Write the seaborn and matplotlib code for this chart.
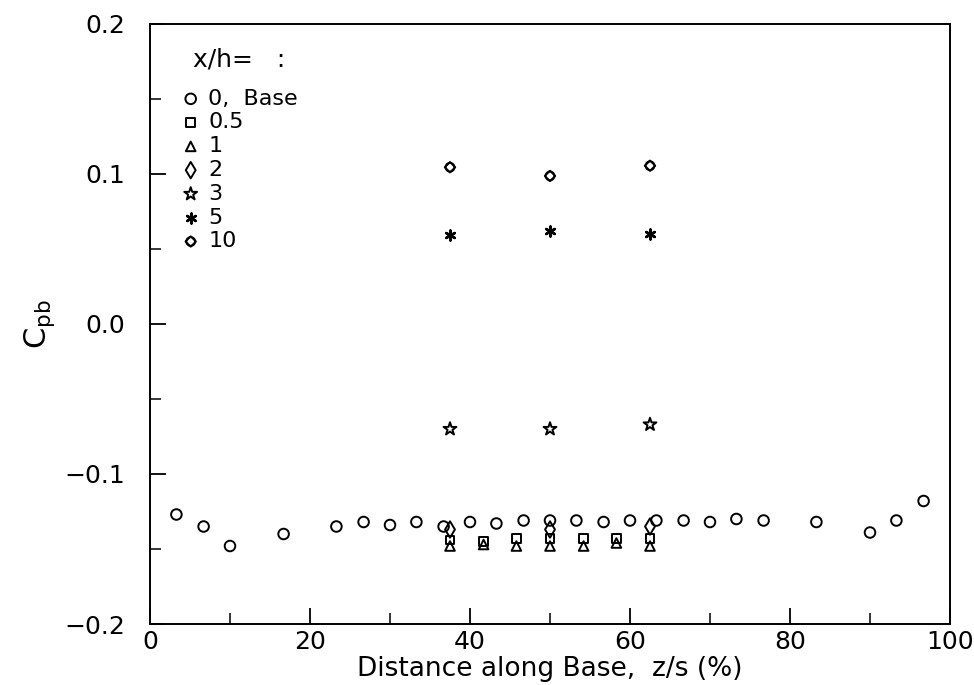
import matplotlib
matplotlib.use("Agg")
import matplotlib.pyplot as plt
import seaborn as sns
import numpy as np
import pandas as pd

# ---- data ----
base_z = [3.3, 6.7, 10.0, 16.7, 23.3, 26.7, 30.0, 33.3, 36.7, 40.0, 43.3, 46.7,
          50.0, 53.3, 56.7, 60.0, 63.3, 66.7, 70.0, 73.3, 76.7, 83.3, 90.0, 93.3, 96.7]
base_cp = [-0.127, -0.135, -0.148, -0.140, -0.135, -0.132, -0.134, -0.132, -0.135,
           -0.132, -0.133, -0.131, -0.131, -0.131, -0.132, -0.131, -0.131, -0.131,
           -0.132, -0.130, -0.131, -0.132, -0.139, -0.131, -0.118]

wake_z7 = [37.5, 41.7, 45.8, 50.0, 54.2, 58.3, 62.5]
cp_05 = [-0.144, -0.145, -0.143, -0.143, -0.143, -0.143, -0.143]
cp_1 = [-0.148, -0.147, -0.148, -0.148, -0.148, -0.146, -0.148]

wake_z3 = [37.5, 50.0, 62.5]
cp_2 = [-0.137, -0.137, -0.135]
cp_3 = [-0.070, -0.070, -0.067]
cp_5 = [0.059, 0.062, 0.060]
cp_10 = [0.1045, 0.0987, 0.1055]

labels = ["0,  Base", "0.5", "1", "2", "3", "5", "10"]
xticks = [0, 20, 40, 60, 80, 100]
yticks = [-0.2, -0.1, 0.0, 0.1, 0.2]
yticklabels = ["\u22120.2", "\u22120.1", "0.0", "0.1", "0.2"]

# ---- figure ----
sns.set_style("white")
plt.rcParams["font.family"] = ["DejaVu Sans"]
plt.rcParams["mathtext.fontset"] = "dejavusans"

fig = plt.figure(figsize=(9.74, 6.85), dpi=100)
ax = fig.add_axes([150 / 974, 1 - 624 / 685, 800 / 974, 600 / 685])

lw = 1.4
hollow = dict(facecolor="none", edgecolor="black", color="black", linewidth=lw)

handles = []
sns.scatterplot(x=base_z, y=base_cp, marker="o", s=58, ax=ax, **hollow)
handles.append(ax.collections[-1])
sns.scatterplot(x=wake_z7, y=cp_05, marker="s", s=40, ax=ax, **hollow)
handles.append(ax.collections[-1])
sns.scatterplot(x=wake_z7, y=cp_1, marker="^", s=48, ax=ax, **hollow)
handles.append(ax.collections[-1])
sns.scatterplot(x=wake_z3, y=cp_2, marker="d", s=70, ax=ax, **hollow)
handles.append(ax.collections[-1])
sns.scatterplot(x=wake_z3, y=cp_3, marker="*", s=95, ax=ax, **hollow)
handles.append(ax.collections[-1])
sns.scatterplot(x=wake_z3, y=cp_5, marker=(6, 2, 0), s=50, ax=ax,
                color="black", linewidth=1.8)
handles.append(ax.collections[-1])
sns.scatterplot(x=wake_z3, y=cp_10, marker="o", s=40, ax=ax, **hollow)
hc = ax.collections[-1]
sns.scatterplot(x=wake_z3, y=cp_10, marker="D", s=28, ax=ax, **hollow)
hd = ax.collections[-1]
handles.append((hc, hd))

ax.set_xlim(0, 100)
ax.set_ylim(-0.2, 0.2)

ax.set_xticks(xticks)
ax.set_xticks([10, 30, 50, 70, 90], minor=True)
ax.set_yticks(yticks)
ax.set_yticks([-0.15, -0.05, 0.05, 0.15], minor=True)
ax.set_yticklabels(yticklabels)

ax.tick_params(axis="both", which="major", direction="in", length=11.3, width=1.3,
               labelsize=18, color="black", labelcolor="black",
               bottom=True, left=True, top=False, right=False)
ax.tick_params(axis="both", which="minor", direction="in", length=7.7, width=1.3,
               bottom=True, left=True, top=False, right=False)
ax.tick_params(axis="y", which="major", pad=18)
ax.tick_params(axis="x", which="major", pad=4)

for sp in ax.spines.values():
    sp.set_visible(True)
    sp.set_color("black")
    sp.set_linewidth(1.4)

ax.set_xlabel("Distance along Base,  z/s (%)", fontsize=19, labelpad=2,
              color="black")
ax.set_ylabel(r"C$_{\mathrm{pb}}$", fontsize=22, labelpad=5, color="black")

leg = ax.legend(handles, labels, title="x/h=   :", loc="upper left",
                bbox_to_anchor=(0.037, 0.96), frameon=False, fontsize=16,
                title_fontsize=18, markerscale=1.0, handlelength=1.0,
                handletextpad=0.3, labelspacing=0.17, borderpad=0,
                borderaxespad=0)
for t in leg.get_texts():
    t.set_color("black")
leg.get_title().set_color("black")
leg._legend_box.sep = 12

fig.savefig("out.png", dpi=100)
